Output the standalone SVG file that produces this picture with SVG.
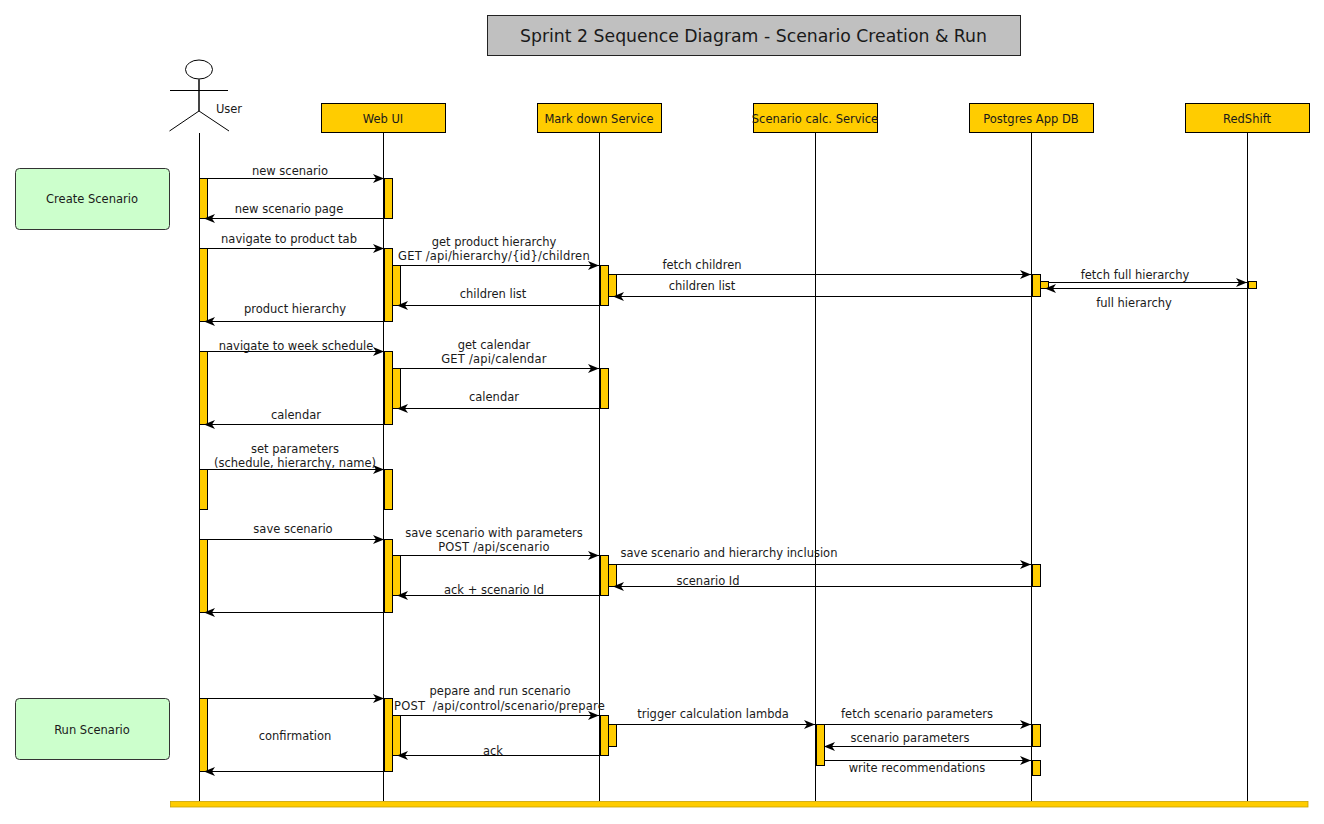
<svg xmlns="http://www.w3.org/2000/svg" width="1324" height="824" viewBox="0 0 1324 824">
<style>
text{font-family:"DejaVu Sans","Liberation Sans",sans-serif;font-size:11.5px;fill:#1a1a1a;text-anchor:middle}
text.w{letter-spacing:.2px;white-space:pre}
rect.p{fill:#ffcc00;stroke:#000;stroke-width:1}
.l{stroke:#000;stroke-width:1;fill:none}
.m{stroke:#000;stroke-width:1.100;fill:none;marker-end:url(#a)}
.n{fill:#ccffcc;stroke:#333;stroke-width:1}
.b{fill:#ffcc00;stroke:#000;stroke-width:1}
</style>
<defs><marker id="a" markerUnits="userSpaceOnUse" markerWidth="12" markerHeight="10" refX="11" refY="5" orient="auto"><path d="M0,0.500 L11,5 L0,9.500 L3,5 Z" fill="#000"/></marker></defs>
<rect width="1324" height="824" fill="#fff"/>
<g id="title"><rect x="487.500" y="15.500" width="533" height="40" fill="#c0c0c0" stroke="#222"/><text x="753.500" y="42" style="font-size:17.300px">Sprint 2 Sequence Diagram - Scenario Creation &amp; Run</text></g>
<g id="lifelines">
<line class="l" x1="199.500" y1="133" x2="199.500" y2="801"/><line class="l" x1="383.500" y1="133" x2="383.500" y2="801"/><line class="l" x1="599.500" y1="133" x2="599.500" y2="801"/><line class="l" x1="815.500" y1="133" x2="815.500" y2="801"/><line class="l" x1="1031.500" y1="133" x2="1031.500" y2="801"/><line class="l" x1="1247.500" y1="133" x2="1247.500" y2="801"/>
</g>
<g id="user"><ellipse cx="199" cy="69.500" rx="13.500" ry="9.500" fill="#fff" stroke="#000"/><path d="M199,79V111" stroke="#444" stroke-width="2" fill="none"/><path class="l" d="M170,90.500H228M169.500,131L199,111L229,131"/><text x="229" y="113">User</text></g>
<g id="webui"><rect class="p" x="321.500" y="103.500" width="124" height="29"/><text x="383" y="122.500">Web UI</text></g>
<g id="markdown"><rect class="p" x="537.500" y="103.500" width="124" height="29"/><text x="599" y="122.500">Mark down Service</text></g>
<g id="calc"><rect class="p" x="753.500" y="103.500" width="124" height="29"/><text x="815" y="122.500">Scenario calc. Service</text></g>
<g id="postgres"><rect class="p" x="969.500" y="103.500" width="124" height="29"/><text x="1031" y="122.500">Postgres App DB</text></g>
<g id="redshift"><rect class="p" x="1185.500" y="103.500" width="124" height="29"/><text x="1247" y="122.500">RedShift</text></g>
<g id="create"><rect class="n" x="15.500" y="168.500" width="154" height="61" rx="4"/><text x="92" y="203">Create Scenario</text></g>
<g id="run"><rect class="n" x="15.500" y="698.500" width="154" height="61" rx="4"/><text x="92" y="734">Run Scenario</text></g>
<g id="activations">
<rect class="b" x="199.500" y="178.500" width="8" height="40"/><rect class="b" x="384.500" y="178.500" width="8" height="40"/>
<rect class="b" x="199.500" y="248.500" width="8" height="73"/><rect class="b" x="384.500" y="248.500" width="8" height="73"/><rect class="b" x="392.500" y="265.500" width="8" height="40"/>
<rect class="b" x="600.500" y="265.500" width="8" height="40"/><rect class="b" x="608.500" y="274.500" width="8" height="22"/><rect class="b" x="1032.500" y="274.500" width="8" height="22"/><rect class="b" x="1040.500" y="281.500" width="8" height="7"/><rect class="b" x="1248.500" y="281.500" width="8" height="7"/>
<rect class="b" x="199.500" y="351.500" width="8" height="73"/><rect class="b" x="384.500" y="351.500" width="8" height="73"/><rect class="b" x="392.500" y="368.500" width="8" height="40"/><rect class="b" x="600.500" y="368.500" width="8" height="40"/>
<rect class="b" x="199.500" y="469.500" width="8" height="40"/><rect class="b" x="384.500" y="469.500" width="8" height="40"/>
<rect class="b" x="199.500" y="539.500" width="8" height="73"/><rect class="b" x="384.500" y="539.500" width="8" height="73"/><rect class="b" x="392.500" y="555.500" width="8" height="40"/><rect class="b" x="600.500" y="555.500" width="8" height="40"/><rect class="b" x="608.500" y="564.500" width="8" height="22"/><rect class="b" x="1032.500" y="564.500" width="8" height="22"/>
<rect class="b" x="199.500" y="698.500" width="8" height="73"/><rect class="b" x="384.500" y="698.500" width="8" height="73"/><rect class="b" x="392.500" y="715.500" width="8" height="40"/><rect class="b" x="600.500" y="715.500" width="8" height="40"/><rect class="b" x="608.500" y="724.500" width="8" height="22"/>
<rect class="b" x="816.500" y="724.500" width="8" height="41"/><rect class="b" x="1032.500" y="724.500" width="8" height="22"/><rect class="b" x="1032.500" y="760.500" width="8" height="15"/>
</g>
<g id="connectors">
<path class="m" d="M200,178.500H384"/><path class="m" d="M384,218.500H204"/>
<path class="m" d="M200,248.500H384"/><path class="m" d="M400,265.500H599"/><path class="m" d="M616,274.500H1031"/><path class="m" d="M1048,282.500H1247"/><path class="m" d="M1247,288.500H1045"/><path class="m" d="M1032,296.500H613"/><path class="m" d="M600,305.500H397"/><path class="m" d="M384,321.500H204"/>
<path class="m" d="M200,351.500H384"/><path class="m" d="M400,368.500H599"/><path class="m" d="M600,408.500H397"/><path class="m" d="M384,424.500H204"/>
<path class="m" d="M200,469.500H384"/><path class="m" d="M200,539.500H384"/><path class="m" d="M400,555.500H599"/><path class="m" d="M616,564.500H1031"/><path class="m" d="M1032,586.500H613"/><path class="m" d="M600,595.500H397"/><path class="m" d="M384,612.500H204"/>
<path class="m" d="M200,698.500H384"/><path class="m" d="M400,715.500H599"/><path class="m" d="M616,724.500H815"/><path class="m" d="M824,724.500H1031"/><path class="m" d="M1032,746.500H824"/><path class="m" d="M824,760.500H1031"/><path class="m" d="M600,755.500H397"/><path class="m" d="M384,771.500H204"/>
</g>
<g id="labels">
<text x="290" y="175">new scenario</text><text x="289" y="213">new scenario page</text><text x="289" y="243">navigate to product tab</text>
<text x="494" y="246">get product hierarchy</text><text class="w" x="494" y="260">GET /api/hierarchy/{id}/children</text>
<text x="702" y="269">fetch children</text><text x="702" y="290">children list</text><text x="1135" y="279">fetch full hierarchy</text><text x="1134" y="307">full hierarchy</text><text x="493" y="298">children list</text><text x="295" y="313">product hierarchy</text>
<text x="296" y="350">navigate to week schedule</text><text x="494" y="349">get calendar</text><text class="w" x="494" y="363">GET /api/calendar</text><text x="494" y="401">calendar</text><text x="296" y="419">calendar</text>
<text x="295" y="453">set parameters</text><text x="295" y="467">(schedule, hierarchy, name)</text><text x="293" y="533">save scenario</text>
<text x="494" y="537">save scenario with parameters</text><text class="w" x="494" y="551">POST /api/scenario</text><text x="729" y="557">save scenario and hierarchy inclusion</text><text x="708" y="585">scenario Id</text><text x="494" y="594">ack + scenario Id</text>
<text x="500" y="695">pepare and run scenario</text><text class="w" x="499.500" y="710">POST  /api/control/scenario/prepare</text><text x="713" y="718">trigger calculation lambda</text><text x="917" y="718">fetch scenario parameters</text><text x="910" y="742">scenario parameters</text><text x="917" y="772">write recommendations</text><text x="295" y="740">confirmation</text><text x="493" y="755">ack</text>
</g>
<rect id="bottom-bar" x="170.500" y="801.500" width="1137.500" height="5.500" fill="#ffcc00" stroke="#c9a200" stroke-width=".8"/>
</svg>
